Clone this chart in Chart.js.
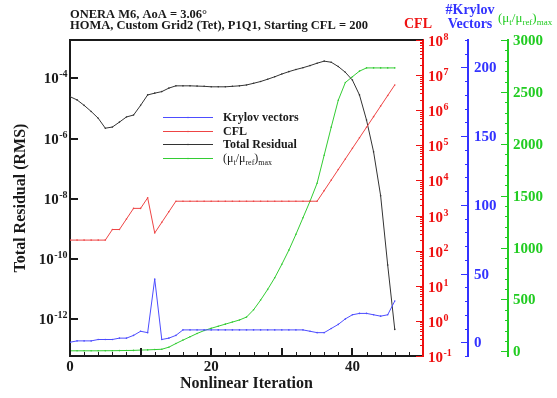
<!DOCTYPE html>
<html>
<head>
<meta charset="utf-8">
<script src="https://cdn.jsdelivr.net/npm/chart.js@4/dist/chart.umd.min.js"></script>
<style>
  html, body { margin: 0; padding: 0; background: #fff; }
  canvas { display: block; }
</style>
</head>
<body>
<canvas id="convergence" width="557" height="398"></canvas>
<script>
// nonlinear iteration history
const iterations = [0,1,2,3,4,5,6,7,8,9,10,11,12,13,14,15,16,17,18,19,20,21,22,23,24,25,26,27,28,29,30,31,32,33,34,35,36,37,38,39,40,41,42,43,44,45,46];

const residual = [2.45e-5,1.91e-5,1.26e-5,7.9e-6,4.7e-6,2.2e-6,2.4e-6,3.5e-6,5.2e-6,6.0e-6,
  1.26e-5,2.8e-5,3.2e-5,3.6e-5,4.7e-5,5.6e-5,5.6e-5,5.6e-5,5.5e-5,5.4e-5,
  5.2e-5,5.2e-5,5.2e-5,5.4e-5,5.6e-5,6.0e-5,6.8e-5,7.8e-5,9.3e-5,1.12e-4,
  1.38e-4,1.66e-4,1.95e-4,2.24e-4,2.63e-4,3.16e-4,3.7e-4,3.4e-4,2.45e-4,1.58e-4,
  8.7e-5,2.8e-5,4.1e-6,3.6e-7,1.26e-8,6.3e-11,4.6e-13];

const cfl = [200,200,200,200,200,200,400,400,800,1600,1600,3200,320,640,1280,
  2560,2560,2560,2560,2560,2560,2560,2560,2560,2560,2560,2560,2560,2560,2560,2560,2560,2560,2560,2560,2560,
  5120,10240,20480,40960,81920,163840,327680,655360,1310720,2621440,5242880];

const krylov = [0,1,1,1,2,2,2,3,3,5,8,7,46,2,3,5,
  9,9,9,9,9,9,9,9,9,9,9,9,9,9,9,9,9,9,
  8,7,7,10,13,17,20,21,21,20,19,20,30];

const muRatio = [5,5,5,5,5,6,6,7,8,9,12,14,17,20,
  40,75,108,140,172,200,222,242,262,282,302,330,
  400,494,597,709,838,975,1127,1287,1447,
  1620,1890,2160,2420,2590,2646,2700,2731,2731,2731,2731,2731];

// tick labels
const xLabels = [0, 20, 40];
const residualExps = [-4, -6, -8, -10, -12];
const cflExps = [-1, 0, 1, 2, 3, 4, 5, 6, 7, 8];
const krylovLabels = [0, 50, 100, 150, 200];
const muLabels = [0, 500, 1000, 1500, 2000, 2500, 3000];

const RED = '#ee1111', BLUE = '#3333ff', GREEN = '#22cc22', INK = '#1a1a1a';
const SERIF = '"Liberation Serif", "Times New Roman", serif';
const BOLD15 = 'bold 15px ' + SERIF;
const EXP10 = 'bold 10px ' + SERIF;

function pts(values) {
  return iterations.map((it, i) => ({ x: it, y: values[i] }));
}

function series(label, values, color, axis) {
  return {
    label: label,
    data: pts(values),
    yAxisID: axis,
    borderColor: color,
    backgroundColor: color,
    borderWidth: 1,
    pointRadius: 0.8,
    pointBorderWidth: 0,
    tension: 0
  };
}

// draws "10" with a raised exponent, centred on y
function drawPow(ctx, exp, x, y, align, color) {
  ctx.fillStyle = color;
  ctx.textAlign = 'left';
  ctx.textBaseline = 'alphabetic';
  ctx.font = BOLD15;
  const wb = ctx.measureText('10').width;
  ctx.font = EXP10;
  const we = ctx.measureText(String(exp)).width;
  const x0 = align === 'right' ? x - wb - we : x;
  ctx.font = BOLD15;
  ctx.fillText('10', x0, y + 5);
  ctx.font = EXP10;
  ctx.fillText(String(exp), x0 + wb + 0.5, y - 1);
}

// text runs with sub/superscripts; parts = [text, font, dy]
function drawRuns(ctx, parts, x, y, color) {
  ctx.fillStyle = color;
  ctx.textAlign = 'left';
  ctx.textBaseline = 'alphabetic';
  let cx = x;
  parts.forEach(p => {
    ctx.font = p[1];
    ctx.fillText(p[0], cx, y + (p[2] || 0));
    cx += ctx.measureText(p[0]).width;
  });
  return cx;
}

function vTicks(ctx, scale, x, dir, values, len, color) {
  ctx.strokeStyle = color;
  ctx.lineWidth = 1;
  ctx.beginPath();
  values.forEach(v => {
    const y = Math.round(scale.getPixelForValue(v)) + 0.5;
    ctx.moveTo(x, y);
    ctx.lineTo(x + dir * len, y);
  });
  ctx.stroke();
}

function range(a, b, step) {
  const out = [];
  for (let v = a; v <= b + 1e-9; v += step) out.push(v);
  return out;
}

function logMinors(d0, d1) {
  const out = [];
  for (let d = d0; d < d1; d++) {
    for (let m = 2; m <= 9; m++) out.push(m * Math.pow(10, d));
  }
  return out;
}

function muParts(size, weight) {
  const f = weight + ' ' + size + 'px ' + SERIF;
  const s = weight + ' ' + Math.round(size * 0.7) + 'px ' + SERIF;
  return [['(\u03bc', f], ['t', s, 3], ['/\u03bc', f], ['ref', s, 3], [')', f], ['max', s, 3]];
}

const overlay = {
  id: 'overlay',
  afterDraw(chart) {
    const ctx = chart.ctx;
    const area = chart.chartArea;
    const sx = chart.scales.x, sy = chart.scales.y;
    const sc = chart.scales.yCfl, sk = chart.scales.yKry, sm = chart.scales.yMu;
    ctx.save();

    // frame top
    ctx.strokeStyle = INK;
    ctx.lineWidth = 2;
    ctx.beginPath();
    ctx.moveTo(area.left - 1, area.top);
    ctx.lineTo(area.right, area.top);
    ctx.stroke();

    // x ticks (inward)
    ctx.lineWidth = 1;
    ctx.strokeStyle = INK;
    ctx.beginPath();
    range(0, 48, 2).forEach(v => {
      const x = Math.round(sx.getPixelForValue(v)) + 0.5;
      const len = v % 10 === 0 ? 8 : 4;
      ctx.moveTo(x, area.bottom);
      ctx.lineTo(x, area.bottom - len);
    });
    ctx.stroke();
    ctx.lineWidth = 2;
    ctx.beginPath();
    range(10, 40, 10).forEach(v => {
      const x = Math.round(sx.getPixelForValue(v));
      ctx.moveTo(x, area.bottom);
      ctx.lineTo(x, area.bottom - 8);
    });
    ctx.stroke();

    // left axis ticks
    ctx.lineWidth = 2;
    ctx.strokeStyle = INK;
    ctx.beginPath();
    residualExps.forEach(e => {
      const y = Math.round(sy.getPixelForValue(Math.pow(10, e)));
      ctx.moveTo(area.left, y);
      ctx.lineTo(area.left + 8, y);
    });
    ctx.stroke();

    // right axes ticks
    vTicks(ctx, sc, sc.left, -1, logMinors(-1, 8), 3, RED);
    vTicks(ctx, sc, sc.left, -1, cflExps.map(e => Math.pow(10, e)), 7, RED);
    vTicks(ctx, sk, sk.left, -1, range(-10, 220, 10), 3, BLUE);
    vTicks(ctx, sk, sk.left, -1, krylovLabels, 7, BLUE);
    vTicks(ctx, sm, sm.left, -1, range(0, 3000, 100), 3, GREEN);
    vTicks(ctx, sm, sm.left, -1, muLabels, 7, GREEN);

    // tick labels
    residualExps.forEach(e => drawPow(ctx, e, area.left - 3, sy.getPixelForValue(Math.pow(10, e)), 'right', INK));
    cflExps.forEach(e => drawPow(ctx, e, sc.left + 5, sc.getPixelForValue(Math.pow(10, e)) + 1, 'left', RED));

    ctx.font = BOLD15;
    ctx.textBaseline = 'alphabetic';
    ctx.textAlign = 'center';
    ctx.fillStyle = INK;
    xLabels.forEach(v => ctx.fillText(String(v), sx.getPixelForValue(v), area.bottom + 15));
    ctx.textAlign = 'left';
    ctx.fillStyle = BLUE;
    krylovLabels.forEach(v => ctx.fillText(String(v), sk.left + 6, sk.getPixelForValue(v) + 5));
    ctx.fillStyle = GREEN;
    muLabels.forEach(v => ctx.fillText(String(v), sm.left + 5, sm.getPixelForValue(v) + 5));

    // axis titles
    ctx.fillStyle = INK;
    ctx.font = 'bold 16px ' + SERIF;
    ctx.textAlign = 'center';
    ctx.fillText('Nonlinear Iteration', (area.left + area.right) / 2, 388);
    ctx.save();
    ctx.translate(25, (area.top + area.bottom) / 2);
    ctx.rotate(-Math.PI / 2);
    ctx.fillText('Total Residual (RMS)', 0, 0);
    ctx.restore();

    ctx.font = 'bold 14px ' + SERIF;
    ctx.fillStyle = RED;
    ctx.fillText('CFL', sc.left - 5, 28);
    ctx.fillStyle = BLUE;
    ctx.fillText('#Krylov', sk.left + 2, 14);
    ctx.fillText('Vectors', sk.left + 2, 28);
    drawRuns(ctx, muParts(13, 'normal'), 498, 22, GREEN);

    // title
    ctx.font = 'bold 12.5px ' + SERIF;
    ctx.textAlign = 'left';
    ctx.fillStyle = INK;
    ctx.fillText('ONERA M6, AoA = 3.06\u00b0', area.left, 18);
    ctx.fillText('HOMA, Custom Grid2 (Tet), P1Q1, Starting CFL = 200', area.left, 29);

    // legend
    const rows = [117, 131, 144, 158];
    chart.data.datasets.forEach((ds, i) => {
      const y = rows[i] + 0.5;
      ctx.strokeStyle = ds.borderColor;
      ctx.lineWidth = 1;
      ctx.beginPath();
      ctx.moveTo(163, y);
      ctx.lineTo(213, y);
      ctx.stroke();
      ctx.fillStyle = ds.borderColor;
      ctx.beginPath();
      ctx.arc(188, y, 0.8, 0, Math.PI * 2);
      ctx.fill();
      if (ds.label === 'mu') {
        drawRuns(ctx, muParts(12, 'normal'), 223, rows[i] + 4, INK);
      } else {
        ctx.font = 'bold 12px ' + SERIF;
        ctx.fillStyle = INK;
        ctx.textAlign = 'left';
        ctx.fillText(ds.label, 223, rows[i] + 4);
      }
    });

    ctx.restore();
  }
};

new Chart(document.getElementById('convergence'), {
  type: 'line',
  data: {
    datasets: [
      series('Krylov vectors', krylov, '#4d4dff', 'yKry'),
      series('CFL', cfl, '#ee4444', 'yCfl'),
      series('Total Residual', residual, '#333333', 'y'),
      series('mu', muRatio, '#33cc33', 'yMu')
    ]
  },
  options: {
    responsive: false,
    animation: false,
    layout: { padding: { top: 40, left: 0, right: 0, bottom: 0 } },
    plugins: { legend: { display: false }, tooltip: { enabled: false } },
    scales: {
      x: {
        type: 'linear', position: 'bottom', min: 0, max: 50,
        grid: { display: false }, ticks: { display: false },
        border: { color: INK, width: 2 },
        afterFit(s) { s.height = 42; }
      },
      y: {
        type: 'logarithmic', position: 'left',
        min: Math.pow(10, -13.22), max: Math.pow(10, -2.73),
        grid: { display: false }, ticks: { display: false },
        border: { color: INK, width: 2 },
        afterFit(s) { s.width = 70; }
      },
      yCfl: {
        type: 'logarithmic', position: 'right', min: 0.1, max: 1e8,
        grid: { display: false }, ticks: { display: false },
        border: { color: RED, width: 2 },
        afterFit(s) { s.width = 45; }
      },
      yKry: {
        type: 'linear', position: 'right', min: -10, max: 220,
        grid: { display: false }, ticks: { display: false },
        border: { color: BLUE, width: 2 },
        afterFit(s) { s.width = 40; }
      },
      yMu: {
        type: 'linear', position: 'right', min: -45, max: 3000,
        grid: { display: false }, ticks: { display: false },
        border: { color: GREEN, width: 2 },
        afterFit(s) { s.width = 49; }
      }
    }
  },
  plugins: [overlay]
});
</script>
</body>
</html>
